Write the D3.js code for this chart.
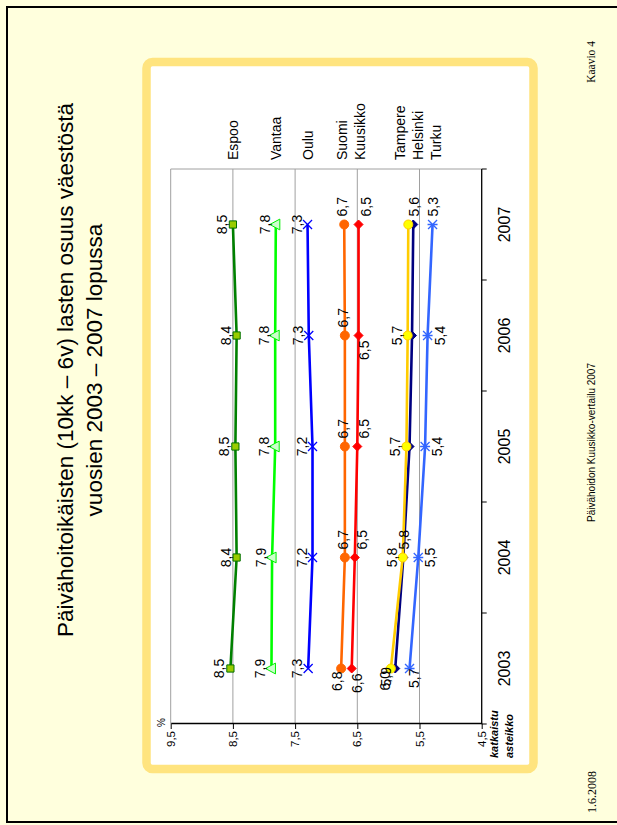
<!DOCTYPE html>
<html><head><meta charset="utf-8">
<script src="https://cdn.jsdelivr.net/npm/d3@7"></script>
<style>html,body{margin:0;padding:0;background:#FFFFDD;} svg{display:block;}</style>
</head><body>
<svg id="c" width="617" height="825"></svg>
<script>
// ---------- data ----------
const years = ["2003", "2004", "2005", "2006", "2007"];
const seriesNames = ["Espoo", "Vantaa", "Oulu", "Suomi", "Kuusikko", "Helsinki", "Tampere", "Turku"];
const espoo    = [8.54, 8.44, 8.46, 8.44, 8.50];
const vantaa   = [7.88, 7.87, 7.82, 7.82, 7.81];
const oulu     = [7.29, 7.22, 7.22, 7.28, 7.30];
const suomi    = [6.76, 6.70, 6.70, 6.70, 6.71];
const kuusikko = [6.59, 6.54, 6.50, 6.48, 6.48];
const helsinki = [5.89, 5.76, 5.66, 5.62, 5.60];
const tampere  = [5.96, 5.77, 5.71, 5.69, 5.68];
const turku    = [5.66, 5.52, 5.41, 5.37, 5.29];
const valueTicks = [4.5, 5.5, 6.5, 7.5, 8.5, 9.5];
const titleLines = ["Päivähoitoikäisten (10kk – 6v) lasten osuus väestöstä", "vuosien 2003 – 2007 lopussa"];

// ---------- styles ----------
const seriesValues = {Espoo: espoo, Vantaa: vantaa, Oulu: oulu, Suomi: suomi, Kuusikko: kuusikko, Helsinki: helsinki, Tampere: tampere, Turku: turku};
const styles = {
  Espoo:    {line: "#008000", marker: "square",   fill: "#99CC00", stroke: "#007000"},
  Vantaa:   {line: "#00FF00", marker: "triangle", fill: "#CCFFCC", stroke: "#00EE00"},
  Oulu:     {line: "#0000FF", marker: "x",        fill: "none",    stroke: "#0000FF"},
  Suomi:    {line: "#FF6600", marker: "circle",   fill: "#FF6600", stroke: "#FF6600"},
  Kuusikko: {line: "#FF0000", marker: "diamond",  fill: "#FF0000", stroke: "#FF0000"},
  Helsinki: {line: "#000080", marker: "diamond",  fill: "#000080", stroke: "#000080"},
  Tampere:  {line: "#FFCC00", marker: "circle",   fill: "#FFFF00", stroke: "#FFCC00"},
  Turku:    {line: "#3366FF", marker: "star",     fill: "none",    stroke: "#3366FF"}
};
// label placement (chart orientation): a=above, b=below, l=left, r=right, ""=hidden
const labelLayout = {
  Espoo:    {pos: ["a","a","a","a","a"], dy: 0,  ldx: -4, ldy: 0},
  Vantaa:   {pos: ["a","a","a","a","a"], dy: 0,  ldx: -4, ldy: 0},
  Oulu:     {pos: ["a","a","a","a","a"], dy: 0,  ldx: -4, ldy: 0},
  Suomi:    {pos: ["l","r","r","r","r"], dy: 3,  ldx: -3, ldy: 1},
  Kuusikko: {pos: ["l","r","r","l","r"], dy: 12, ldx: -5, ldy: 10},
  Helsinki: {pos: ["l","r","","","r"],   dy: 6,  ldx: 1.5, ldy: -4},
  Tampere:  {pos: ["l","a","a","a",""],  dy: 1,  ldx: -2.5, ldy: -1},
  Turku:    {pos: ["l","b","b","b","r"], dy: 5,  ldx: 0, ldy: 9}
};

const SANS = "'Liberation Sans', Arial, sans-serif";
const SERIF = "'Liberation Serif', 'Times New Roman', serif";
const fmt = v => d3.format(".1f")(v).replace(".", ",");

const svg = d3.select("#c");
svg.append("rect").attr("width", 617).attr("height", 825).attr("fill", "#FFFFDD");
svg.append("rect").attr("x", 7).attr("y", 7).attr("width", 660).attr("height", 815)
  .attr("fill", "none").attr("stroke", "#000").attr("stroke-width", 2);

// slide drawn in landscape coordinates, rotated onto the portrait page
const g = svg.append("g").attr("transform", "translate(0,825) rotate(-90)");

g.append("rect").attr("x", 56).attr("y", 146.5).attr("width", 707).attr("height", 387).attr("rx", 6)
  .attr("fill", "#fff").attr("stroke", "#FFE47F").attr("stroke-width", 8.5);

// title
titleLines.forEach((t, i) => {
  g.append("text").attr("x", 455).attr("y", 73 + i * 28.5).attr("text-anchor", "middle")
    .attr("font-family", SANS).attr("font-size", 22.5).attr("fill", "#000").text(t);
});

// footer
g.append("text").attr("x", 12).attr("y", 596).attr("font-family", SERIF).attr("font-size", 12).text("1.6.2008");
g.append("text").attr("x", 382.5).attr("y", 595).attr("text-anchor", "middle").attr("font-family", SANS).attr("font-size", 10).text("Päivähoidon Kuusikko-vertailu 2007");
g.append("text").attr("x", 784).attr("y", 595).attr("text-anchor", "end").attr("font-family", SERIF).attr("font-size", 11.5).text("Kaavio 4");

// scales
const x = d3.scaleBand().domain(years).range([101, 656]);
const y = d3.scaleLinear().domain([4.5, 9.5]).range([481.7, 170.7]);
const bw = x.bandwidth();
const cx = i => x(years[i]) + bw / 2;

// grid + plot border
const x0 = x.range()[0], x1 = x.range()[1];
g.selectAll(".grid").data(valueTicks.filter(v => v > 4.5)).join("line")
  .attr("x1", x0).attr("x2", x1).attr("y1", d => y(d)).attr("y2", d => y(d))
  .attr("stroke", "#A0A0A0").attr("stroke-width", 1);
g.append("line").attr("x1", x1).attr("x2", x1).attr("y1", y(9.5)).attr("y2", y(4.5))
  .attr("stroke", "#A0A0A0").attr("stroke-width", 1);

// value axis
const yAxis = d3.axisLeft(y).tickValues(valueTicks).tickSize(5).tickSizeOuter(0).tickPadding(2).tickFormat(fmt);
const ya = g.append("g").attr("transform", `translate(${x0},0)`).call(yAxis);
ya.select(".domain").attr("stroke", "#000").attr("stroke-width", 1.3);
ya.selectAll(".tick line").attr("stroke", "#000");
ya.selectAll("text").attr("font-family", SANS).attr("font-size", 11.5).attr("fill", "#000");

// category axis
const bounds = [x0].concat(years.map(d => x(d) + bw));
g.append("line").attr("x1", x0).attr("x2", x1).attr("y1", y(4.5)).attr("y2", y(4.5)).attr("stroke", "#000").attr("stroke-width", 1.3);
g.selectAll(".ctick").data(bounds).join("line")
  .attr("x1", d => d).attr("x2", d => d).attr("y1", y(4.5)).attr("y2", y(4.5) + 5).attr("stroke", "#000");
g.selectAll(".clab").data(years).join("text")
  .attr("x", d => x(d) + bw / 2).attr("y", 510).attr("text-anchor", "middle")
  .attr("font-family", SANS).attr("font-size", 16).text(d => d);

g.append("text").attr("x", 98).attr("y", 165).attr("font-family", SANS).attr("font-size", 10).text("%");
g.append("text").attr("x", 67).attr("y", 498).attr("font-family", SANS).attr("font-size", 11).attr("font-weight", "bold").attr("font-style", "italic").text("katkaistu");
g.append("text").attr("x", 67).attr("y", 513).attr("font-family", SANS).attr("font-size", 11).attr("font-weight", "bold").attr("font-style", "italic").text("asteikko");

// markers
function markerPath(type) {
  const r = 4.5;
  switch (type) {
    case "square": return `M${-3.6},${-3.6}h7.2v7.2h-7.2Z`;
    case "triangle": return `M0,${-6}L${5.4},${4}L${-5.4},${4}Z`;
    case "x": return `M${-r},${-r}L${r},${r}M${-r},${r}L${r},${-r}`;
    case "star": return `M${-r},${-r}L${r},${r}M${-r},${r}L${r},${-r}M0,${-r - 0.5}L0,${r + 0.5}`;
    case "diamond": return `M0,${-r}L${r},0L0,${r}L${-r},0Z`;
    case "circle": return d3.symbol(d3.symbolCircle, Math.PI * r * r)();
  }
}

const line = d3.line().x((d, i) => cx(i)).y(d => y(d));
seriesNames.forEach(name => {
  const vals = seriesValues[name], st = styles[name];
  const sg = g.append("g");
  sg.append("path").attr("d", line(vals)).attr("fill", "none").attr("stroke", st.line).attr("stroke-width", 2.6);
  sg.selectAll("path.m").data(vals).join("path").attr("class", "m")
    .attr("transform", (d, i) => `translate(${cx(i)},${y(d)})`)
    .attr("d", markerPath(st.marker))
    .attr("fill", st.fill).attr("stroke", st.stroke)
    .attr("stroke-width", (st.marker === "x" || st.marker === "star") ? 1.3 : 1);
});

// data labels
seriesNames.forEach(name => {
  const vals = seriesValues[name], lay = labelLayout[name];
  vals.forEach((v, i) => {
    const p = lay.pos[i];
    if (!p) return;
    const X = cx(i), Y = y(v);
    let tx = X, ty = Y, anchor = "middle";
    if (p === "a") { ty = Y - 6; }
    else if (p === "b") { ty = Y + 17; }
    else if (p === "r") { tx = X + 8; ty = Y + lay.dy; anchor = "start"; }
    else if (p === "l") { tx = X + lay.ldx; ty = Y + lay.ldy; anchor = "end"; }
    g.append("text").attr("x", tx).attr("y", ty).attr("text-anchor", anchor)
      .attr("font-family", SANS).attr("font-size", 14).attr("fill", "#000").text(fmt(v));
  });
});

// series names at line ends, de-overlapped
const legendItems = seriesNames.map(n => ({name: n, target: y(seriesValues[n][4]) + 5}))
  .sort((a, b) => a.target - b.target);
const gap = 18;
let clusters = legendItems.map(d => ({items: [d], mean: d.target}));
let changed = true;
while (changed) {
  changed = false;
  for (let k = 0; k < clusters.length - 1; k++) {
    const a = clusters[k], b = clusters[k + 1];
    const aEnd = a.mean + (a.items.length - 1) * gap / 2;
    const bStart = b.mean - (b.items.length - 1) * gap / 2;
    if (bStart - aEnd < gap) {
      const items = a.items.concat(b.items);
      clusters.splice(k, 2, {items, mean: d3.mean(items, d => d.target)});
      changed = true; break;
    }
  }
}
clusters.forEach(c => c.items.forEach((d, j) => { d.pos = c.mean + (j - (c.items.length - 1) / 2) * gap; }));
g.selectAll(".leg").data(legendItems).join("text")
  .attr("x", 665).attr("y", d => d.pos).attr("font-family", SANS).attr("font-size", 14).text(d => d.name);
</script>
</body></html>
